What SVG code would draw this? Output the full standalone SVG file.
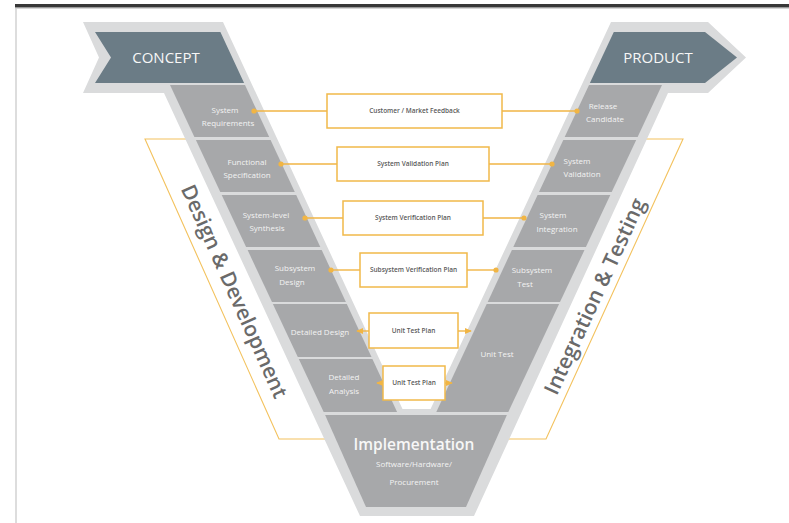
<svg xmlns="http://www.w3.org/2000/svg" width="789" height="523" viewBox="0 0 789 523">
  <defs>
    <style>
      .band { fill: #dadbdc; }
      .cell { fill: #a7a8aa; }
      .banner { fill: #6b7c86; }
      .ctext { font-family: "Open Sans", "Liberation Sans", sans-serif; font-size: 8px; fill: #f3f3f3; text-anchor: middle; }
      .btext { font-family: "Open Sans", "Liberation Sans", sans-serif; font-size: 15px; fill: #f7f7f7; text-anchor: middle; }
      .box { fill: #ffffff; stroke: #f1b94a; stroke-width: 1.5; }
      .ptext { font-family: "Open Sans", "Liberation Sans", sans-serif; font-size: 6.5px; font-weight: 600; fill: #5a5a5a; text-anchor: middle; }
      .conn { stroke: #f1b544; stroke-width: 1.4; fill: none; }
      .phase { stroke: #f3c25e; stroke-width: 1.1; fill: none; }
      .phtext { font-family: "Open Sans", "Liberation Sans", sans-serif; font-size: 21px; font-weight: 600; fill: #6a6a6a; text-anchor: middle; dominant-baseline: central; }
    </style>
    <marker id="dot" viewBox="0 0 6 6" refX="3" refY="3" markerWidth="6" markerHeight="6" markerUnits="userSpaceOnUse">
      <circle cx="3" cy="3" r="2.6" fill="#f1b544"/>
    </marker>
    <marker id="arrow" viewBox="0 0 8 8" refX="7" refY="4" markerWidth="7" markerHeight="7" markerUnits="userSpaceOnUse" orient="auto">
      <path d="M0,0.5 L8,4 L0,7.5 Z" fill="#f1b544"/>
    </marker>
  </defs>

  <!-- frame -->
  <g id="frame">
    <rect x="15" y="4" width="774" height="3.5" fill="#383838"/>
    <line x1="15" y1="8.5" x2="789" y2="8.5" stroke="#d6d6d6" stroke-width="1"/>
    <line x1="16" y1="8" x2="16" y2="523" stroke="#d2d2d2" stroke-width="1.5"/>
  </g>

  <!-- phase outlines -->
  <g id="phase-design">
    <polyline class="phase" points="210,139 145,139 279,439 335,439"/>
    <text class="phtext" transform="translate(235,291) rotate(65.9)">Design &amp; Development</text>
  </g>
  <g id="phase-integration">
    <polyline class="phase" points="635,139 683,139 546,439 495,439"/>
    <text class="phtext" transform="translate(594,296) rotate(-65.3)">Integration &amp; Testing</text>
  </g>

  <!-- V outline band -->
  <g id="v-band">
    <polygon class="band" points="83,22 223,22 402.5,409 430.6,409 611,22 708,22 746,57.5 708,93 668,93 474,516 360,516 164,93 83,93 99,57.5"/>
  </g>

  <g id="concept">
    <polygon class="banner" points="95,32 220.4,32 244.1,83 95,83 111,57.5"/>
    <text class="btext" x="166" y="63">CONCEPT</text>
  </g>
  <g id="product">
    <polygon class="banner" points="613.8,32 705,32 737,57.5 705,83 589.9,83"/>
    <text class="btext" x="658" y="63">PRODUCT</text>
  </g>

  <!-- left arm -->
  <g id="system-requirements">
    <polygon class="cell" points="170,85 245,85 269.2,137 194.4,137"/>
    <text class="ctext" x="225" y="113">System</text>
    <text class="ctext" x="228" y="125.5">Requirements</text>
  </g>
  <g id="functional-specification">
    <polygon class="cell" points="195.9,140 270.6,140 294.8,192 220.3,192"/>
    <text class="ctext" x="247" y="165">Functional</text>
    <text class="ctext" x="247" y="178">Specification</text>
  </g>
  <g id="system-level-synthesis">
    <polygon class="cell" points="221.7,195 296.2,195 320.3,247 246.1,247"/>
    <text class="ctext" x="266" y="218">System-level</text>
    <text class="ctext" x="267" y="231">Synthesis</text>
  </g>
  <g id="subsystem-design">
    <polygon class="cell" points="247.6,250 321.7,250 345.9,302 272,302"/>
    <text class="ctext" x="295" y="271">Subsystem</text>
    <text class="ctext" x="292" y="285">Design</text>
  </g>
  <g id="detailed-design">
    <polygon class="cell" points="272.9,304 346.8,304 371.5,357 297.8,357"/>
    <text class="ctext" x="320" y="335">Detailed Design</text>
  </g>
  <g id="detailed-analysis">
    <polygon class="cell" points="298.8,359 372.4,359 397.1,412 323.7,412"/>
    <text class="ctext" x="344" y="380">Detailed</text>
    <text class="ctext" x="344" y="394">Analysis</text>
  </g>

  <!-- right arm -->
  <g id="release-candidate">
    <polygon class="cell" points="589,85 662,85 637.6,137 564.7,137"/>
    <text class="ctext" x="603" y="109">Release</text>
    <text class="ctext" x="605" y="121.5">Candidate</text>
  </g>
  <g id="system-validation">
    <polygon class="cell" points="563.3,140 636.2,140 611.7,192 539,192"/>
    <text class="ctext" x="577" y="164">System</text>
    <text class="ctext" x="582" y="176.5">Validation</text>
  </g>
  <g id="system-integration">
    <polygon class="cell" points="537.6,195 610.3,195 585.9,247 513.3,247"/>
    <text class="ctext" x="553" y="218">System</text>
    <text class="ctext" x="557" y="232">Integration</text>
  </g>
  <g id="subsystem-test">
    <polygon class="cell" points="511.9,250 584.5,250 560,302 487.7,302"/>
    <text class="ctext" x="532" y="273">Subsystem</text>
    <text class="ctext" x="525" y="287">Test</text>
  </g>
  <g id="unit-test">
    <polygon class="cell" points="486.7,304 559.1,304 508.3,412 436.3,412"/>
    <text class="ctext" x="497" y="357">Unit Test</text>
  </g>

  <g id="implementation">
    <polygon class="cell" points="325.1,415 506.9,415 466,507 366,507"/>
    <text class="btext" x="414" y="450" style="font-size:15.5px;font-weight:600">Implementation</text>
    <text class="ctext" x="414" y="467">Software/Hardware/</text>
    <text class="ctext" x="414" y="485">Procurement</text>
  </g>

  <!-- connectors -->
  <g id="connectors">
    <line class="conn" x1="327" y1="111" x2="254" y2="111" marker-end="url(#dot)"/>
    <line class="conn" x1="502" y1="111" x2="577" y2="111" marker-end="url(#dot)"/>
    <line class="conn" x1="337" y1="164" x2="281" y2="164" marker-end="url(#dot)"/>
    <line class="conn" x1="489" y1="164" x2="552" y2="164" marker-end="url(#dot)"/>
    <line class="conn" x1="343" y1="218" x2="305" y2="218" marker-end="url(#dot)"/>
    <line class="conn" x1="483" y1="218" x2="524" y2="218" marker-end="url(#dot)"/>
    <line class="conn" x1="360" y1="270" x2="331" y2="270" marker-end="url(#dot)"/>
    <line class="conn" x1="467" y1="270" x2="496" y2="270" marker-end="url(#dot)"/>
    <line class="conn" x1="369" y1="331" x2="357" y2="331" marker-end="url(#arrow)"/>
    <line class="conn" x1="458" y1="331" x2="471" y2="331" marker-end="url(#arrow)"/>
    <line class="conn" x1="383" y1="383" x2="377" y2="383" marker-end="url(#arrow)"/>
    <line class="conn" x1="445" y1="383" x2="452" y2="383" marker-end="url(#arrow)"/>
  </g>

  <!-- plan boxes -->
  <g id="customer-market-feedback">
    <rect class="box" x="327" y="94" width="175" height="34"/>
    <text class="ptext" x="414.5" y="113.3">Customer / Market Feedback</text>
  </g>
  <g id="system-validation-plan">
    <rect class="box" x="337" y="147" width="152" height="34"/>
    <text class="ptext" x="413" y="166.3">System Validation Plan</text>
  </g>
  <g id="system-verification-plan">
    <rect class="box" x="343" y="201" width="140" height="34"/>
    <text class="ptext" x="413" y="220.3">System Verification Plan</text>
  </g>
  <g id="subsystem-verification-plan">
    <rect class="box" x="360" y="253" width="107" height="34"/>
    <text class="ptext" x="413.5" y="272.3">Subsystem Verification Plan</text>
  </g>
  <g id="unit-test-plan-1">
    <rect class="box" x="369" y="313" width="89" height="35"/>
    <text class="ptext" x="413.5" y="332.8">Unit Test Plan</text>
  </g>
  <g id="unit-test-plan-2">
    <rect class="box" x="383" y="366" width="62" height="34"/>
    <text class="ptext" x="414" y="385.3">Unit Test Plan</text>
  </g>
</svg>
